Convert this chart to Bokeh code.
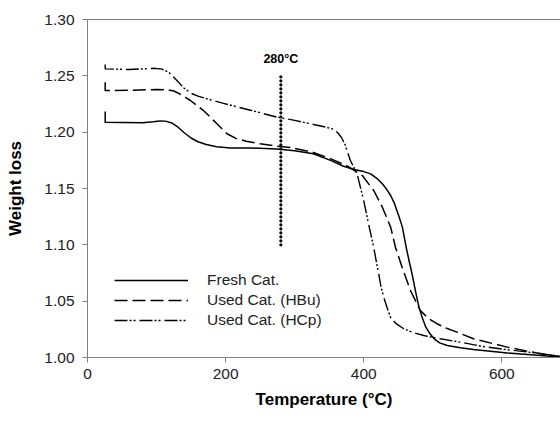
from bokeh.plotting import figure
from bokeh.models import Range1d, FixedTicker, LinearAxis, Legend, LegendItem, NumeralTickFormatter
from bokeh.core.properties import value
from bokeh.embed import file_html
from bokeh.resources import INLINE

# Data (Temperature in °C, weight loss ratio)
fresh_t = [25.6, 25.6, 52, 80, 95, 105, 113, 122, 130, 140, 150, 160, 172, 187, 207, 236, 274, 300, 327,
           352, 370, 386, 400, 410, 420, 427, 433, 439, 444, 448, 452, 456, 462, 466, 470, 475, 480, 485,
           490, 496, 502, 510, 521, 540, 559, 608, 656, 685]
fresh_w = [1.2183, 1.2089, 1.2085, 1.2083, 1.2092, 1.2100, 1.2098, 1.2082, 1.2050, 1.1995, 1.1948, 1.1915,
           1.1890, 1.1870, 1.1860, 1.1860, 1.1850, 1.1835, 1.1808, 1.1750, 1.1700, 1.1668, 1.1650, 1.1630,
           1.1585, 1.1542, 1.1495, 1.1438, 1.1375, 1.1305, 1.1235, 1.1157, 1.0965, 1.0850, 1.0743, 1.0590,
           1.0447, 1.0350, 1.0269, 1.0210, 1.0166, 1.0130, 1.0107, 1.0086, 1.0070, 1.0040, 1.0018, 1.0003]

hbu_t = [25.6, 25.6, 60, 100, 115, 125, 135, 149, 168, 187.5, 202, 215, 230, 250, 274, 294, 327, 350, 376,
         398, 414.5, 427, 439, 446, 455.6, 467.7, 482, 494, 506, 520, 535, 559, 608, 656, 685]
hbu_w = [1.2444, 1.2370, 1.2372, 1.2378, 1.2377, 1.2365, 1.2335, 1.2281, 1.2192, 1.2074, 1.1986, 1.1945,
         1.1920, 1.1897, 1.1876, 1.1864, 1.1820, 1.1770, 1.1700, 1.1615, 1.1482, 1.1334, 1.1157, 1.0979,
         1.0802, 1.0595, 1.0417, 1.0345, 1.0300, 1.0260, 1.0225, 1.0166, 1.0092, 1.0033, 1.0009]

hcp_t = [25.6, 25.6, 60, 96, 108, 118, 129.5, 140, 150, 160, 172, 197, 236, 274.5, 300, 327.5, 345, 356.5,
         363, 368, 373, 380.7, 390.4, 400, 407, 414.5, 418, 421.7, 425, 429, 434, 438.7, 447, 458, 472, 487,
         511, 540, 570, 600, 650, 685]
hcp_w = [1.2600, 1.2562, 1.2556, 1.2567, 1.2560, 1.2530, 1.2459, 1.2390, 1.2345, 1.2320, 1.2298, 1.2255,
         1.2195, 1.2133, 1.2105, 1.2068, 1.2045, 1.2025, 1.1990, 1.1950, 1.1890, 1.1749, 1.1630, 1.1393,
         1.1187, 1.0979, 1.0860, 1.0743, 1.0630, 1.0535, 1.0440, 1.0358, 1.0300, 1.0255, 1.0220, 1.0195,
         1.0166, 1.0136, 1.0100, 1.0075, 1.0040, 1.0010]

series_labels = ["Fresh Cat.", "Used Cat. (HBu)", "Used Cat. (HCp)"]
marker_t = [280, 280]
marker_w = [1.10, 1.25]
marker_label = "280°C"
x_ticks = [0, 200, 400, 600]
y_ticks = [1.00, 1.05, 1.10, 1.15, 1.20, 1.25, 1.30]

FONT = "Liberation Sans"
AXIS_GRAY = "#808080"

p = figure(width=560, height=422, output_backend="svg", toolbar_location=None,
           x_range=Range1d(0, 685), y_range=Range1d(1.0, 1.30),
           min_border_left=87, min_border_right=0, min_border_top=19, min_border_bottom=65)
p.outline_line_color = None
p.grid.grid_line_color = None
p.background_fill_color = "white"
p.border_fill_color = "white"

for ax in (p.xaxis[0], p.yaxis[0]):
    ax.axis_line_color = AXIS_GRAY
    ax.major_tick_line_color = AXIS_GRAY
    ax.major_tick_out = 5
    ax.major_tick_in = 0
    ax.minor_tick_line_color = None
    ax.major_label_text_font = FONT
    ax.major_label_text_font_size = "15.5px"
    ax.major_label_text_color = "#222222"
    ax.axis_label_text_font = FONT
    ax.axis_label_text_font_size = "17px"
    ax.axis_label_text_font_style = "bold"
    ax.axis_label_text_color = "black"

p.xaxis[0].ticker = FixedTicker(ticks=x_ticks)
p.yaxis[0].ticker = FixedTicker(ticks=y_ticks)
p.yaxis[0].formatter = NumeralTickFormatter(format="0.00")
p.xaxis[0].axis_label = "Temperature (°C)"
p.yaxis[0].axis_label = "Weight loss"
p.xaxis[0].major_label_standoff = 6
p.yaxis[0].major_label_standoff = 8
p.xaxis[0].axis_label_standoff = 8
p.yaxis[0].axis_label_standoff = 16

top = LinearAxis(ticker=FixedTicker(ticks=[]), axis_line_color=AXIS_GRAY,
                 major_tick_line_color=None, minor_tick_line_color=None,
                 major_label_text_font_size="0px")
p.add_layout(top, "above")

r1 = p.line(fresh_t, fresh_w, line_color="black", line_width=1.5, line_join="round")
r2 = p.line(hbu_t, hbu_w, line_color="black", line_width=1.5, line_dash="13 5", line_join="round")
r3 = p.line(hcp_t, hcp_w, line_color="black", line_width=1.4, line_dash="13 2 2 2 2 4", line_join="round")

p.line(marker_t, marker_w, line_color="black", line_width=3.2, line_dash="0 4", line_cap="round")
p.text(x=[marker_t[0]], y=[marker_w[1]], text=[marker_label], text_font=value(FONT),
       text_font_size="12.5px", text_font_style="bold", text_align="center",
       text_baseline="bottom", y_offset=-10, text_color="black")

legend = Legend(items=[LegendItem(label=series_labels[0], renderers=[r1]),
                       LegendItem(label=series_labels[1], renderers=[r2]),
                       LegendItem(label=series_labels[2], renderers=[r3])],
                location=(27, 27), glyph_width=74, glyph_height=20, label_height=20,
                label_standoff=19, spacing=0, padding=0, margin=0,
                border_line_color=None, background_fill_alpha=0,
                label_text_font=FONT, label_text_font_size="15.5px", label_text_color="#222222")
p.add_layout(legend, "center")

open("out.html", "w").write(file_html(p, INLINE))
